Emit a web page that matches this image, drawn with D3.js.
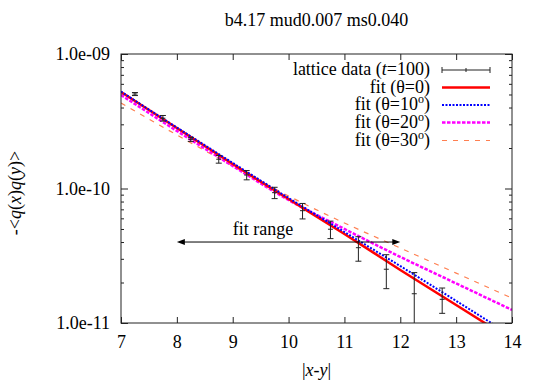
<!DOCTYPE html>
<html>
<head>
<meta charset="utf-8">
<script src="https://cdn.jsdelivr.net/npm/d3@7"></script>
<style>
  body { margin: 0; background: #fff; }
  #chart, #chart text, #chart tspan { font-family: 'Liberation Serif', 'DejaVu Serif', serif !important; }
</style>
</head>
<body>
<svg id="chart"></svg>
<script>
// Data
const xData = [7.25, 7.75, 8.25, 8.75, 9.25, 9.75, 10.25, 10.75, 11.25, 11.75, 12.25, 12.75];
const yData = [5.04e-10, 3.33e-10, 2.32e-10, 1.65e-10, 1.26e-10, 9.31e-11, 6.84e-11, 4.98e-11, 3.63e-11, 2.51e-11, 1.65e-11, 1.50e-11];
const yErr  = [1.3e-11, 1.6e-11, 0.8e-11, 1.07e-11, 1.0e-11, 0.9e-11, 0.9e-11, 0.74e-11, 0.75e-11, 0.71e-11, 0.72e-11, 0.32e-11];

const fitX   = [7, 8, 9, 10, 11, 12, 13, 14];
const fitT0  = [5.22e-10, 2.82e-10, 1.52e-10, 8.35e-11, 4.59e-11, 2.48e-11, 1.36e-11, 7.47e-12];
const fitT10 = [5.26e-10, 2.84e-10, 1.55e-10, 8.50e-11, 4.75e-11, 2.65e-11, 1.46e-11, 8.0e-12];
const fitT20 = [4.96e-10, 2.68e-10, 1.47e-10, 8.21e-11, 5.00e-11, 3.10e-11, 1.97e-11, 1.25e-11];
const fitT30 = [4.32e-10, 2.50e-10, 1.47e-10, 8.79e-11, 5.54e-11, 3.61e-11, 2.35e-11, 1.53e-11];

const xTicks = [7, 8, 9, 10, 11, 12, 13, 14];
const yTicks = [1e-11, 1e-10, 1e-9];
const yTickLabels = ["1.0e-11", "1.0e-10", "1.0e-09"];

const rangeX = [8, 12];
const rangeY = 4.0e-11;

// Layout
const W = 545, H = 382;
const margin = { top: 54, right: 33, bottom: 59, left: 121 };
const width  = W - margin.left - margin.right;
const height = H - margin.top  - margin.bottom;
const FS = "18px";
const FONT = "Liberation Serif";

const svgRoot = d3.select("#chart").attr("width", W).attr("height", H)
    .attr("font-family", FONT);
const svg = svgRoot.append("g")
    .attr("transform", `translate(${margin.left},${margin.top})`);

const x = d3.scaleLinear().domain([7, 14]).range([0, width]);
const y = d3.scaleLog().domain([1e-11, 1e-9]).range([height, 0]);

const minorY = [];
[1e-11, 1e-10].forEach(b => { for (let k = 2; k <= 9; k++) minorY.push(b * k); });

// Axes (ticks pointing inward)
const styleAxis = g => {
    g.attr("font-family", FONT).attr("font-size", FS);
    g.select(".domain").remove();
    g.selectAll("line").attr("stroke", "#222");
    g.selectAll("text").attr("fill", "#000");
};

svg.append("g").attr("transform", `translate(0,${height})`)
    .call(d3.axisBottom(x).tickValues(xTicks).tickSize(-6).tickPadding(12).tickFormat(d3.format("d")))
    .call(styleAxis);
svg.append("g")
    .call(d3.axisTop(x).tickValues(xTicks).tickSize(-6).tickFormat(""))
    .call(styleAxis);
svg.append("g")
    .call(d3.axisLeft(y).tickValues(yTicks).tickSize(-7).tickPadding(11)
        .tickFormat((d, i) => yTickLabels[i]))
    .call(styleAxis);
svg.append("g")
    .call(d3.axisLeft(y).tickValues(minorY).tickSize(-3).tickFormat(""))
    .call(styleAxis);
svg.append("g").attr("transform", `translate(${width},0)`)
    .call(d3.axisRight(y).tickValues(yTicks).tickSize(-7).tickFormat(""))
    .call(styleAxis);
svg.append("g").attr("transform", `translate(${width},0)`)
    .call(d3.axisRight(y).tickValues(minorY).tickSize(-3).tickFormat(""))
    .call(styleAxis);

// Clip
svgRoot.append("defs").append("clipPath").attr("id", "plotclip")
    .append("rect").attr("width", width).attr("height", height);

const plot = svg.append("g").attr("clip-path", "url(#plotclip)");

// Fit curves
const fits = [
    { vals: fitT0,  color: "#ff0000", w: 2.5, dash: null },
    { vals: fitT10, color: "#0000ff", w: 2,   dash: "2,1.5" },
    { vals: fitT20, color: "#ff00ff", w: 2.5, dash: "3.5,1.5" },
    { vals: fitT30, color: "#ff7f50", w: 1.2, dash: "5,6" }
];
const line = d3.line()
    .x(d => x(d[0]))
    .y(d => y(d[1]))
    .curve(d3.curveMonotoneX);

[fits[3], fits[2], fits[0], fits[1]].forEach(f => {
    plot.append("path")
        .datum(fitX.map((v, i) => [v, f.vals[i]]))
        .attr("fill", "none")
        .attr("stroke", f.color)
        .attr("stroke-width", f.w)
        .attr("stroke-dasharray", f.dash)
        .attr("d", line);
});

// Error bars
const pts = xData.map((v, i) => ({ x: v, y: yData[i], e: yErr[i] }));
const eb = plot.selectAll(".eb").data(pts).enter().append("g")
    .attr("stroke", "#222").attr("stroke-width", 1);
eb.append("line")
    .attr("x1", d => x(d.x)).attr("x2", d => x(d.x))
    .attr("y1", d => y(d.y + d.e))
    .attr("y2", d => d.y - d.e > 1e-11 ? y(d.y - d.e) : height + 2);
eb.append("line")
    .attr("x1", d => x(d.x) - 3).attr("x2", d => x(d.x) + 3)
    .attr("y1", d => y(d.y + d.e)).attr("y2", d => y(d.y + d.e));
eb.filter(d => d.y - d.e > 1e-11).append("line")
    .attr("x1", d => x(d.x) - 3).attr("x2", d => x(d.x) + 3)
    .attr("y1", d => y(d.y - d.e)).attr("y2", d => y(d.y - d.e));
eb.append("line")
    .attr("x1", d => x(d.x) - 2.5).attr("x2", d => x(d.x) + 2.5)
    .attr("y1", d => y(d.y)).attr("y2", d => y(d.y));

// Fit range arrow
const ay = y(rangeY), ax1 = x(rangeX[0]), ax2 = x(rangeX[1]);
svg.append("line").attr("x1", ax1 + 4).attr("x2", ax2 - 4)
    .attr("y1", ay).attr("y2", ay).attr("stroke", "#000").attr("stroke-width", 1);
svg.append("path").attr("fill", "#000")
    .attr("d", `M${ax1},${ay} l8,-3 l0,6 Z M${ax2},${ay} l-8,-3 l0,6 Z`);
svg.append("text").attr("x", x(9.0)).attr("y", ay - 7)
    .attr("font-size", FS).text("fit range");

// Frame
svg.append("rect").attr("width", width).attr("height", height)
    .attr("fill", "none").attr("stroke", "#222").attr("stroke-width", 1);

// Legend
const legX = 430 - margin.left, legS1 = 442 - margin.left, legS2 = 490 - margin.left;
const legRows = [16, 33.5, 51, 68.5, 86.5];
const leg = svg.append("g").attr("font-size", FS);
const t0 = leg.append("text").attr("x", legX).attr("y", legRows[0] + 5).attr("text-anchor", "end");
t0.append("tspan").text("lattice data (");
t0.append("tspan").attr("font-style", "italic").text("t");
t0.append("tspan").text("=100)");

const lg0 = leg.append("g").attr("stroke", "#222").attr("stroke-width", 1);
lg0.append("line").attr("x1", legS1).attr("x2", legS2).attr("y1", legRows[0]).attr("y2", legRows[0]);
[legS1, legS2].forEach(px => lg0.append("line").attr("x1", px).attr("x2", px)
    .attr("y1", legRows[0] - 3).attr("y2", legRows[0] + 3));
lg0.append("line").attr("x1", (legS1 + legS2) / 2).attr("x2", (legS1 + legS2) / 2)
    .attr("y1", legRows[0] - 2).attr("y2", legRows[0] + 2);

const fitLabels = [["0", false], ["10", true], ["20", true], ["30", true]];
fits.forEach((f, i) => {
    const ry = legRows[i + 1];
    const t = leg.append("text").attr("x", legX).attr("y", ry + 5).attr("text-anchor", "end");
    t.append("tspan").text("fit (\u03b8=" + fitLabels[i][0]);
    if (fitLabels[i][1]) t.append("tspan").attr("font-size", "12px").attr("dy", -7).text("o");
    t.append("tspan").attr("dy", fitLabels[i][1] ? 7 : 0).text(")");
    leg.append("line").attr("x1", legS1).attr("x2", legS2).attr("y1", ry).attr("y2", ry)
        .attr("stroke", f.color).attr("stroke-width", f.w).attr("stroke-dasharray", f.dash);
});

// Title and axis labels
svgRoot.append("text").attr("x", margin.left + width / 2).attr("y", 26)
    .attr("text-anchor", "middle").attr("font-size", FS)
    .text("b4.17 mud0.007 ms0.040");

const xl = svgRoot.append("text").attr("x", margin.left + width / 2).attr("y", 376)
    .attr("text-anchor", "middle").attr("font-size", FS);
xl.append("tspan").text("|");
xl.append("tspan").attr("font-style", "italic").text("x");
xl.append("tspan").text("-");
xl.append("tspan").attr("font-style", "italic").text("y");
xl.append("tspan").text("|");

const yl = svgRoot.append("text").attr("transform", "translate(21,193) rotate(-90)")
    .attr("text-anchor", "middle").attr("font-size", FS);
yl.append("tspan").text("-<");
yl.append("tspan").attr("font-style", "italic").text("q");
yl.append("tspan").text("(");
yl.append("tspan").attr("font-style", "italic").text("x");
yl.append("tspan").text(")");
yl.append("tspan").attr("font-style", "italic").text("q");
yl.append("tspan").text("(");
yl.append("tspan").attr("font-style", "italic").text("y");
yl.append("tspan").text(")>");
</script>
</body>
</html>
